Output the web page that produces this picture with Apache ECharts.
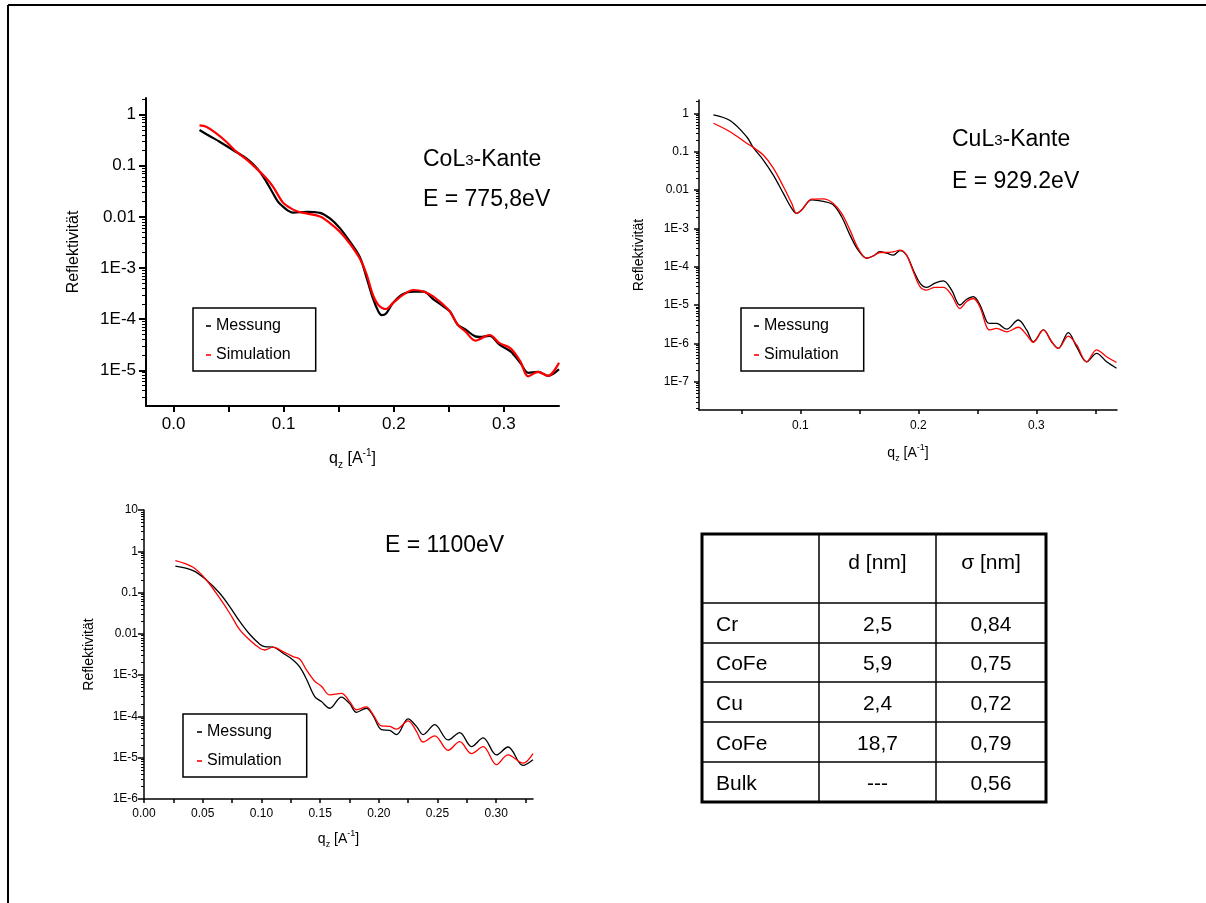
<!DOCTYPE html>
<html><head><meta charset="utf-8">
<script src="https://cdn.jsdelivr.net/npm/echarts@6.0.0/dist/echarts.min.js"></script>
<style>html,body{margin:0;padding:0;background:#fff}#c{width:1206px;height:903px}</style>
</head><body><div id="c"></div>
<script>
const FONT = '"Liberation Sans", Arial, sans-serif';

// ---------- Chart 1: CoL3-Kante, E = 775,8eV ----------
const q1Mess = [0.0236,0.0327,0.0418,0.0539,0.0661,0.0721,0.0782,0.0842,0.0903,0.0948,0.0994,0.1039,0.1085,0.121,0.133,0.142,0.151,0.160,0.169,0.175,0.181,0.186,0.189,0.193,0.199,0.208,0.218,0.227,0.236,0.245,0.251,0.258,0.265,0.274,0.278,0.287,0.296,0.306,0.315,0.322,0.331,0.340,0.350];
const r1Mess = [0.50,0.383,0.296,0.204,0.140,0.108,0.0767,0.049,0.029,0.0199,0.0159,0.0133,0.0121,0.0126,0.0120,0.00933,0.00603,0.00331,0.00166,6.8e-4,2.57e-4,1.41e-4,1.20e-4,1.29e-4,2.04e-4,3.09e-4,3.47e-4,3.47e-4,2.45e-4,1.78e-4,1.41e-4,7.8e-5,6.3e-5,4.6e-5,4.5e-5,4.7e-5,3.16e-5,2.34e-5,1.38e-5,8.9e-6,9.3e-6,7.8e-6,1.05e-5];
const q1Sim = [0.0236,0.0297,0.0388,0.0479,0.0570,0.0661,0.0752,0.0842,0.0903,0.0994,0.1055,0.1115,0.1206,0.133,0.142,0.151,0.160,0.169,0.175,0.181,0.186,0.193,0.199,0.208,0.218,0.227,0.236,0.245,0.251,0.258,0.265,0.274,0.278,0.287,0.296,0.306,0.315,0.322,0.331,0.340,0.350];
const r1Sim = [0.618,0.582,0.431,0.296,0.189,0.134,0.0891,0.0569,0.0391,0.0190,0.0152,0.0131,0.0117,0.0102,0.00759,0.00513,0.00302,0.00155,7.9e-4,3.0e-4,1.9e-4,1.58e-4,2.04e-4,2.95e-4,3.72e-4,3.47e-4,2.75e-4,1.91e-4,1.41e-4,7.8e-5,5.75e-5,3.8e-5,4.07e-5,4.9e-5,3.39e-5,2.69e-5,1.48e-5,7.6e-6,9.3e-6,7.8e-6,1.41e-5];
const x1Ticks = [0,0.05,0.1,0.15,0.2,0.25,0.3];
const x1Labels = [0,0.1,0.2,0.3];
const y1Labels = [1e-5,1e-4,1e-3,0.01,0.1,1];

// ---------- Chart 2: CuL3-Kante, E = 929.2eV ----------
const q2 = [0.0263,0.0404,0.0545,0.060,0.0686,0.0771,0.0856,0.0927,0.0969,0.1011,0.1096,0.1195,0.128,0.135,0.142,0.149,0.1562,0.1619,0.1675,0.1732,0.1788,0.1845,0.190,0.1958,0.2014,0.207,0.2141,0.2212,0.2282,0.2353,0.241,0.2466,0.2523,0.2579,0.2607,0.2664,0.2749,0.2847,0.2918,0.2975,0.306,0.313,0.3186,0.3271,0.3342,0.3427,0.3511,0.3596,0.368];
const r2Mess = [0.912,0.646,0.245,0.129,0.0603,0.0245,0.00813,0.00331,0.00245,0.00302,0.0055,0.00501,0.00407,0.0020,6.76e-4,2.69e-4,1.66e-4,1.91e-4,2.45e-4,2.24e-4,2.0e-4,2.63e-4,2.0e-4,8.1e-5,3.72e-5,2.88e-5,3.72e-5,4.27e-5,2.45e-5,1.0e-5,1.41e-5,1.66e-5,1.0e-5,3.72e-6,3.31e-6,3.31e-6,2.34e-6,4.07e-6,2.24e-6,1.10e-6,2.24e-6,1.10e-6,7.4e-7,1.91e-6,8.1e-7,3.31e-7,5.5e-7,3.31e-7,2.24e-7];
const r2Sim = [0.55,0.331,0.166,0.129,0.0813,0.0372,0.0123,0.00447,0.00245,0.00302,0.00575,0.00589,0.00447,0.00245,9.1e-4,3.02e-4,1.66e-4,1.91e-4,2.34e-4,2.34e-4,2.45e-4,2.69e-4,2.0e-4,7.4e-5,3.02e-5,2.45e-5,2.88e-5,2.88e-5,1.82e-5,8.1e-6,1.23e-5,1.48e-5,8.7e-6,2.69e-6,2.24e-6,2.45e-6,2.0e-6,2.63e-6,1.66e-6,1.07e-6,2.24e-6,1.10e-6,7.4e-7,1.55e-6,9.1e-7,3.31e-7,6.8e-7,4.47e-7,3.16e-7];
const x2Ticks = [0.05,0.1,0.15,0.2,0.25,0.3,0.35];
const x2Labels = [0.1,0.2,0.3];
const y2Labels = [1e-7,1e-6,1e-5,1e-4,1e-3,0.01,0.1,1];

// ---------- Chart 3: E = 1100eV ----------
const q3 = [0.0267,0.0418,0.0531,0.0645,0.073,0.0815,0.090,0.0986,0.1028,0.1099,0.1184,0.1269,0.1326,0.1383,0.1454,0.1511,0.1582,0.1681,0.1752,0.1809,0.1894,0.1951,0.2022,0.2093,0.215,0.2249,0.232,0.2377,0.2476,0.259,0.2689,0.2789,0.2888,0.3002,0.310,0.3228,0.3313];
const r3Mess = [0.435,0.340,0.202,0.0964,0.0457,0.020,0.00977,0.00562,0.0049,0.00479,0.00339,0.00234,0.00158,8.1e-4,3.02e-4,2.29e-4,1.58e-4,2.95e-4,2.04e-4,1.26e-4,1.58e-4,1.05e-4,4.8e-5,4.57e-5,3.63e-5,8.7e-5,5.75e-5,3.63e-5,6.3e-5,2.69e-5,4.07e-5,1.86e-5,3.02e-5,1.17e-5,1.82e-5,6.5e-6,8.9e-6];
const r3Sim = [0.594,0.410,0.202,0.0730,0.0316,0.0126,0.00708,0.00447,0.00407,0.00479,0.00372,0.00282,0.00245,0.00135,7.1e-4,5.4e-4,3.31e-4,3.63e-4,2.29e-4,1.45e-4,1.70e-4,1.10e-4,5.9e-5,5.75e-5,4.9e-5,7.8e-5,4.37e-5,2.4e-5,3.39e-5,1.51e-5,2.45e-5,1.26e-5,1.86e-5,6.8e-6,1.17e-5,7.4e-6,1.26e-5];
const x3Ticks = [0,0.025,0.05,0.075,0.1,0.125,0.15,0.175,0.2,0.225,0.25,0.275,0.3,0.325];
const x3Labels = [0,0.05,0.1,0.15,0.2,0.25,0.3];
const y3Labels = [1e-6,1e-5,1e-4,1e-3,0.01,0.1,1,10];

// ---------- Table ----------
const tableHeader = ['', 'd [nm]', 'σ [nm]'];
const tableLayer = ['Cr','CoFe','Cu','CoFe','Bulk'];
const tableD = ['2,5','5,9','2,4','18,7','---'];
const tableSigma = ['0,84','0,75','0,72','0,79','0,56'];

const seriesNames = ['Messung','Simulation'];
const colMess = '#000000', colSim = '#ff0000';

// ---------- helpers ----------
function zip(a,b){const n=Math.min(a.length,b.length);const o=[];for(let i=0;i<n;i++)o.push([a[i],b[i]]);return o;}
function logMinor(e0,e1,min,max){const o=[];for(let e=e0;e<=e1;e++)for(const m of [2,3,4,5,6,7,8,9])o.push(Number(m+'e'+e));return o.filter(v=>v>min&&v<max);}
function fmtLog(v){const e=Math.round(Math.log10(v));if(e>=0)return String(Math.pow(10,e));if(e>=-2)return Math.pow(10,e).toFixed(-e);return '1E'+e;}

function yMajor(g,min,max,labels,o){
  return {type:'log',gridIndex:g,position:'left',offset:0,min:min,max:max,
    axisLine:{show:true,onZero:false,lineStyle:{color:'#000',width:o.lw}},
    axisTick:{show:true,length:o.tick,customValues:labels,lineStyle:{color:'#000',width:o.lw}},
    axisLabel:{show:true,customValues:labels,formatter:fmtLog,fontSize:o.fs,fontFamily:FONT,color:'#000',margin:o.margin},
    splitLine:{show:false},minorTick:{show:false},minorSplitLine:{show:false},
    name:'Reflektivität',nameLocation:'middle',nameGap:o.nameGap,
    nameTextStyle:{fontSize:o.nfs,fontFamily:FONT,color:'#000'}};
}
function yMinor(g,min,max,ticks,o){
  return {type:'log',gridIndex:g,position:'left',offset:0,min:min,max:max,
    axisLine:{show:false,onZero:false},
    axisTick:{show:true,length:o.minor,customValues:ticks,lineStyle:{color:'#000',width:1}},
    axisLabel:{show:false},splitLine:{show:false},minorTick:{show:false}};
}
function qRich(fs){
  const s=Math.round(fs*0.62);
  return {q:{fontSize:fs,fontFamily:FONT,color:'#000',lineHeight:fs+6,verticalAlign:'middle'},
          z:{fontSize:s,fontFamily:FONT,color:'#000',lineHeight:s,verticalAlign:'bottom'},
          t:{fontSize:fs,fontFamily:FONT,color:'#000',lineHeight:fs+6,verticalAlign:'middle'},
          s:{fontSize:s,fontFamily:FONT,color:'#000',lineHeight:s,verticalAlign:'top'}};
}
function xAxisDef(g,min,max,ticks,labels,dec,o){
  return {type:'value',gridIndex:g,position:'bottom',min:min,max:max,
    axisLine:{show:true,onZero:false,lineStyle:{color:'#000',width:o.lw}},
    axisTick:{show:true,length:o.tick,customValues:ticks,lineStyle:{color:'#000',width:o.lw}},
    axisLabel:{show:true,customValues:labels,formatter:v=>v.toFixed(dec),fontSize:o.fs,fontFamily:FONT,color:'#000',margin:o.margin},
    splitLine:{show:false},minorTick:{show:false},
    name:'{q|q}{z|z}{t| [A}{s|-1}{t|]}',nameLocation:'middle',nameGap:o.nameGap,
    nameTextStyle:{rich:qRich(o.nfs)}};
}
function legendDef(left,top,pad,gap){
  return {data:seriesNames,orient:'vertical',left:left,top:top,padding:pad,itemGap:gap,
    itemWidth:5,itemHeight:1.6,icon:'rect',borderColor:'#000',borderWidth:1.5,backgroundColor:'#fff',
    selectedMode:false,textStyle:{fontSize:16,fontFamily:FONT,color:'#000'}};
}
function lineSeries(name,xi,yi,data,color,w){
  return {type:'line',name:name,xAxisIndex:xi,yAxisIndex:yi,data:data,showSymbol:false,symbol:'none',
    smooth:0.35,color:color,lineStyle:{color:color,width:w},itemStyle:{color:color},silent:true,animation:false};
}

const Y1=[2e-6,2.12], Y2=[1.83e-8,2.22], Y3=[1e-6,10];

// ---------- graphic: frame, titles, table ----------
const graphic=[];
graphic.push({type:'line',shape:{x1:8,y1:5,x2:1206,y2:5},style:{stroke:'#000',lineWidth:2}});
graphic.push({type:'line',shape:{x1:8,y1:5,x2:8,y2:903},style:{stroke:'#000',lineWidth:2}});
function bigRich(){return {a:{fontSize:23,fontFamily:FONT,color:'#000',lineHeight:26,verticalAlign:'bottom'},b:{fontSize:15,fontFamily:FONT,color:'#000',lineHeight:15,verticalAlign:'bottom',padding:[0,0,3,0]}};}
function titleText(txt,x,y,rich){
  return {type:'text',x:x,y:y,style:{text:txt,font:'23px '+FONT,fill:'#000',align:'left',verticalAlign:'middle',rich:rich?bigRich():undefined}};
}
graphic.push(titleText('{a|CoL}{b|3}{a|-Kante}',423,158,true));
graphic.push(titleText('E = 775,8eV',423,200));
graphic.push(titleText('{a|CuL}{b|3}{a|-Kante}',952,138,true));
graphic.push(titleText('E = 929.2eV',952,182));
graphic.push(titleText('E = 1100eV',385,546));

const colX=[702,819,936,1046], rowY=[534,603,643,682,722,762,802];
for(let i=1;i<rowY.length-1;i++) graphic.push({type:'line',shape:{x1:colX[0],y1:rowY[i],x2:colX[3],y2:rowY[i]},style:{stroke:'#000',lineWidth:1.5}});
for(let j=1;j<colX.length-1;j++) graphic.push({type:'line',shape:{x1:colX[j],y1:rowY[0],x2:colX[j],y2:rowY[6]},style:{stroke:'#000',lineWidth:1.5}});
graphic.push({type:'rect',shape:{x:colX[0],y:rowY[0],width:colX[3]-colX[0],height:rowY[6]-rowY[0]},style:{fill:'none',stroke:'#000',lineWidth:3}});
function cellText(txt,col,cy){
  const left = col===0;
  const x = left ? colX[0]+14 : (colX[col]+colX[col+1])/2;
  return {type:'text',x:x,y:cy,style:{text:txt,font:'21px '+FONT,fill:'#000',align:left?'left':'center',verticalAlign:'middle'}};
}
for(let j=0;j<3;j++) if(tableHeader[j]) graphic.push(cellText(tableHeader[j],j,563));
for(let i=0;i<tableLayer.length;i++){
  const cy=(rowY[i+1]+rowY[i+2])/2+2;
  graphic.push(cellText(tableLayer[i],0,cy));
  graphic.push(cellText(tableD[i],1,cy));
  graphic.push(cellText(tableSigma[i],2,cy));
}

const option={
  backgroundColor:'#ffffff',
  animation:false,
  grid:[
    {left:146,top:98,width:413,height:308,containLabel:false,outerBoundsMode:'none'},
    {left:699,top:100,width:418,height:310,containLabel:false,outerBoundsMode:'none'},
    {left:144,top:510,width:389,height:289,containLabel:false,outerBoundsMode:'none'}
  ],
  xAxis:[
    xAxisDef(0,-0.025,0.35,x1Ticks,x1Labels,1,{lw:2,tick:6,fs:17,margin:10,nameGap:42,nfs:16}),
    xAxisDef(1,0.0141,0.3684,x2Ticks,x2Labels,1,{lw:1.5,tick:4,fs:12,margin:10,nameGap:33,nfs:14}),
    xAxisDef(2,0,0.3313,x3Ticks,x3Labels,2,{lw:1.5,tick:4,fs:12,margin:9,nameGap:30,nfs:14})
  ],
  yAxis:[
    yMajor(0,Y1[0],Y1[1],y1Labels,{lw:2,tick:7,fs:17,margin:10,nameGap:64,nfs:16}),
    yMinor(0,Y1[0],Y1[1],logMinor(-6,0,Y1[0],Y1[1]),{minor:4}),
    yMajor(1,Y2[0],Y2[1],y2Labels,{lw:1.5,tick:5,fs:12,margin:10,nameGap:53,nfs:14}),
    yMinor(1,Y2[0],Y2[1],logMinor(-8,0,Y2[0],Y2[1]),{minor:3}),
    yMajor(2,Y3[0],Y3[1],y3Labels,{lw:1.5,tick:6,fs:12,margin:6,nameGap:48,nfs:14}),
    yMinor(2,Y3[0],Y3[1],logMinor(-6,0,Y3[0],Y3[1]),{minor:3})
  ],
  legend:[
    legendDef(193,308,[10,25,8,13],13),
    legendDef(741,308,[10,25,8,13],13),
    legendDef(183,714,[10,25,8,14],13)
  ],
  series:[
    lineSeries('Messung',0,0,zip(q1Mess,r1Mess),colMess,2.2),
    lineSeries('Simulation',0,0,zip(q1Sim,r1Sim),colSim,2.2),
    lineSeries('Messung',1,2,zip(q2,r2Mess),colMess,1.3),
    lineSeries('Simulation',1,2,zip(q2,r2Sim),colSim,1.3),
    lineSeries('Messung',2,4,zip(q3,r3Mess),colMess,1.3),
    lineSeries('Simulation',2,4,zip(q3,r3Sim),colSim,1.3)
  ],
  graphic:graphic
};
const chart=echarts.init(document.getElementById('c'),null,{renderer:'canvas',width:1206,height:903});
chart.setOption(option);
</script>
</body></html>
